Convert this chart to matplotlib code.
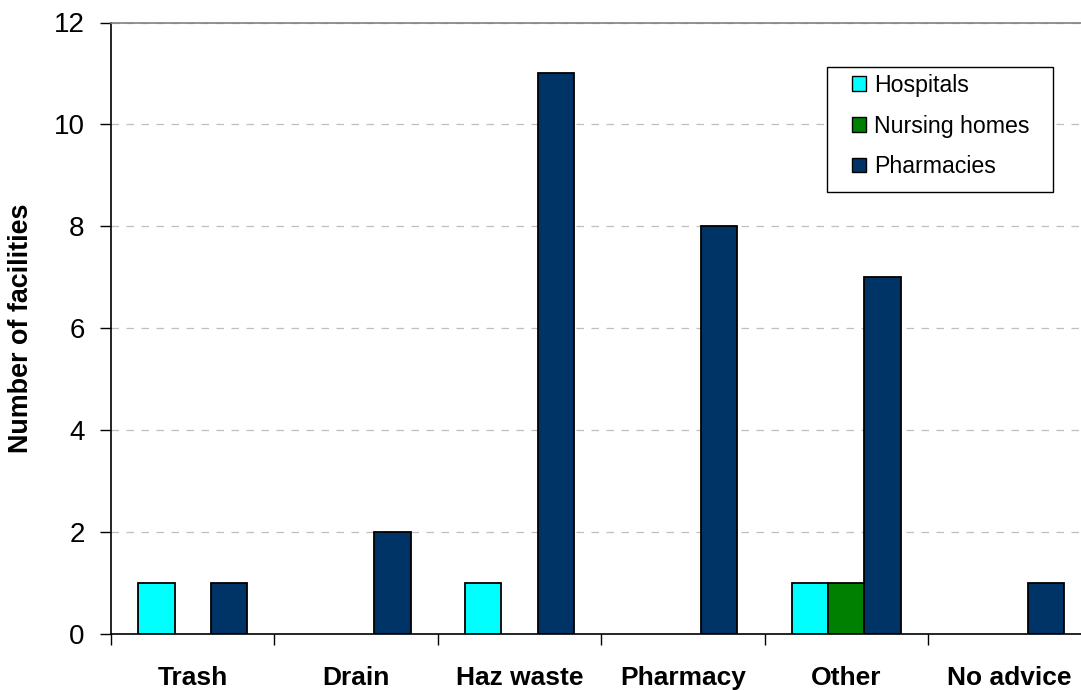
import matplotlib
matplotlib.use("Agg")
import matplotlib.pyplot as plt
import numpy as np
from matplotlib.patches import Patch, Rectangle

plt.rcParams['font.family'] = ['Liberation Sans', 'DejaVu Sans']

categories = ["Trash", "Drain", "Haz waste", "Pharmacy", "Other", "No advice"]
series_names = ["Hospitals", "Nursing homes", "Pharmacies"]
hospitals = [1, 0, 1, 0, 1, 0]
nursing_homes = [0, 0, 0, 0, 1, 0]
pharmacies = [1, 2, 11, 8, 7, 1]
series_values = [hospitals, nursing_homes, pharmacies]
colors = ["#00FFFF", "#008000", "#003366"]
y_ticks = [0, 2, 4, 6, 8, 10, 12]

W, H = 1081, 690
fig = plt.figure(figsize=(W / 100, H / 100), dpi=100)
ax = fig.add_axes([111 / W, 56 / H, 980.4 / W, 611.5 / H])

n = len(categories)
centers = np.arange(n) + 0.5
width = 1 / 4.5
for i, (vals, col) in enumerate(zip(series_values, colors)):
    edges = ["black" if v > 0 else "none" for v in vals]
    ax.bar(centers + (i - 1) * width, vals, width=width, color=col,
           edgecolor=edges, linewidth=1.3, zorder=3)

ax.set_xlim(0, n)
ax.set_ylim(0, 12)
ax.set_yticks(y_ticks)
ax.set_yticklabels([str(t) for t in y_ticks], fontsize=20)
ax.yaxis.grid(True, linestyle=(0, (6, 6)), color="#BFBFBF", linewidth=0.9, zorder=0)

ax.set_xticks(np.arange(n + 1))
ax.set_xticklabels([])
ax.set_xticks(centers, minor=True)
ax.set_xticklabels(categories, minor=True, fontsize=19, fontweight="bold")
ax.tick_params(axis="x", which="minor", length=0, pad=23)
ax.tick_params(axis="x", which="major", length=8, width=1, direction="out")
ax.tick_params(axis="y", length=8, width=1, direction="out", pad=11)

ax.spines["right"].set_visible(False)
ax.spines["top"].set_color("#808080")
ax.spines["top"].set_linewidth(1.2)
for s in ("left", "bottom"):
    ax.spines[s].set_linewidth(1.2)
    ax.spines[s].set_color("black")

fig.text(21 / W, 1 - 328 / H, "Number of facilities", rotation=90,
         ha="center", va="center", fontsize=19.4, fontweight="bold")

# legend box drawn as a separate frame so its padding can be set freely
box = Rectangle((827 / W, 1 - 192 / H), 226 / W, 125 / H,
                transform=fig.transFigure, facecolor="white",
                edgecolor="black", linewidth=1.0, zorder=1)
fig.patches.append(box)

handles = [Patch(facecolor=c, edgecolor="black", linewidth=1.0) for c in colors]
leg = fig.legend(handles, series_names, loc="upper left",
                 bbox_to_anchor=(852 / W, 1 - 74 / H), fontsize=16.7,
                 frameon=False, handlelength=0.6, handleheight=0.6,
                 handletextpad=0.35, labelspacing=0.76, borderpad=0.0,
                 borderaxespad=0.0)
leg.set_zorder(5)

fig.savefig("out.png", dpi=100)
